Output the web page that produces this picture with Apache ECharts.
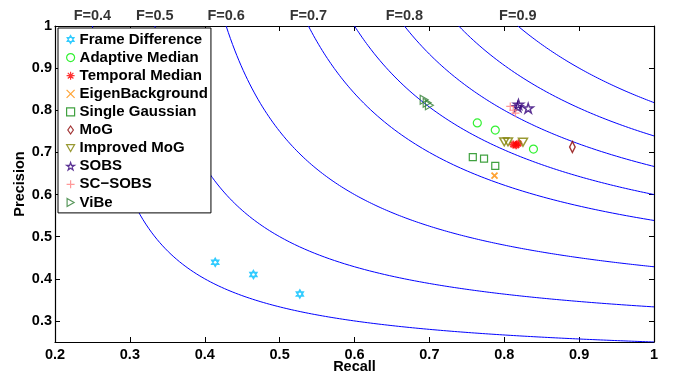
<!DOCTYPE html>
<html><head><meta charset="utf-8">
<script src="https://cdn.jsdelivr.net/npm/echarts@6/dist/echarts.min.js"></script>
<style>html,body{margin:0;padding:0;background:#fff}#c{width:680px;height:374px}</style>
</head><body><div id="c"></div>
<script>
// ---- data ----
const fLevels = [0.4, 0.5, 0.6, 0.7, 0.75, 0.8, 0.85, 0.9];
const fLabelLevels = [0.4, 0.5, 0.6, 0.7, 0.8, 0.9];
const xTicks = [0.2, 0.3, 0.4, 0.5, 0.6, 0.7, 0.8, 0.9, 1];
const yTicks = [0.3, 0.4, 0.5, 0.6, 0.7, 0.8, 0.9, 1];
const frameDifference = [[0.414,0.439],[0.465,0.410],[0.527,0.364]];
const adaptiveMedian = [[0.764,0.770],[0.788,0.753],[0.839,0.708]];
const temporalMedian = [[0.812,0.719],[0.816,0.717],[0.819,0.721]];
const eigenBackground = [[0.787,0.645]];
const singleGaussian = [[0.758,0.689],[0.773,0.685],[0.788,0.668]];
const mog = [[0.891,0.713]];
const improvedMog = [[0.800,0.725],[0.805,0.725],[0.825,0.724]];
const sobs = [[0.819,0.814],[0.818,0.808],[0.832,0.805]];
const scSobs = [[0.808,0.809],[0.812,0.800],[0.815,0.793]];
const vibe = [[0.693,0.825],[0.697,0.818],[0.700,0.812]];

const FONT = '"Liberation Sans", Arial, sans-serif';
const SYM = {
  hexagram: 'path://M0,-1L0.866,0.5L-0.866,0.5ZM0,1L0.866,-0.5L-0.866,-0.5Z',
  asterisk: 'path://M0,-1L0,1M-1,0L1,0M-0.7,-0.7L0.7,0.7M0.7,-0.7L-0.7,0.7',
  cross: 'path://M-1,-1L1,1M1,-1L-1,1',
  plus: 'path://M0,-1L0,1M-1,0L1,0',
  star: 'path://M0,-1L0.2245,-0.309L0.951,-0.309L0.363,0.118L0.588,0.809L0,0.382L-0.588,0.809L-0.363,0.118L-0.951,-0.309L-0.2245,-0.309Z',
  down: 'path://M-1,-0.85L1,-0.85L0,0.9Z',
  right: 'path://M-0.85,-1L0.9,0L-0.85,1Z',
  square: 'path://M-1,-1L1,-1L1,1L-1,1Z',
  diamond: 'path://M0,-1.3L0.9,0L0,1.3L-0.9,0Z'
};

function fCurve(F) {
  const r0 = F / (2 - F);
  const pts = [];
  for (let i = 0; i <= 200; i++) {
    const r = r0 + (1 - r0) * i / 200;
    pts.push([r, F * r / (2 * r - F)]);
  }
  return pts;
}

const curveSeries = fLevels.map(F => ({
  type: 'line', data: fCurve(F), showSymbol: false, symbol: 'none', silent: true,
  lineStyle: { color: '#0000ff', width: 1 }, clip: true, z: 1, legendHoverLink: false
}));

function sc(name, data, symbol, color, size, bw) {
  return {
    name, type: 'scatter', data, symbol, symbolSize: size, symbolKeepAspect: true,
    itemStyle: { color: 'rgba(0,0,0,0)', borderColor: color, borderWidth: bw || 1.2 }, z: 3
  };
}

const pointSeries = [
  sc('Frame Difference', frameDifference, SYM.hexagram, '#00bfff', 8, 1.5),
  sc('Adaptive Median', adaptiveMedian, 'circle', '#00ee00', 8),
  sc('Temporal Median', temporalMedian, SYM.asterisk, '#ff0000', 8, 2),
  sc('EigenBackground', eigenBackground, SYM.cross, '#ff8c00', 6, 1.8),
  sc('Single Gaussian', singleGaussian, SYM.square, '#108a10', 7),
  sc('MoG', mog, SYM.diamond, '#8b0000', [8, 11], 1.5),
  sc('Improved MoG', improvedMog, SYM.down, '#808000', 9, 1.5),
  sc('SOBS', sobs, SYM.star, '#33007a', 10, 1.5),
  sc('SC\u2212SOBS', scSobs, SYM.plus, '#ff7f7f', 8, 1.2),
  sc('ViBe', vibe, SYM.right, '#2e7d32', 9, 1.2)
];

const labelSeries = {
  type: 'scatter', symbol: 'circle', symbolSize: 1, silent: true, clip: false, z: 5,
  itemStyle: { color: 'rgba(0,0,0,0)' },
  data: fLabelLevels.map(F => ({ value: [F / (2 - F), 1], name: 'F=' + F })),
  label: { show: true, position: 'top', distance: 2, formatter: p => p.name,
    color: '#000', fontFamily: FONT, fontWeight: 'bold', fontSize: 14.5 },
  legendHoverLink: false
};

const fmt = v => (Math.abs(v - 1) < 1e-9 ? '1' : v.toFixed(1));
const axisLine = { show: true, lineStyle: { color: '#000', width: 1.2 } };

const chart = echarts.init(document.getElementById('c'), null, { renderer: 'canvas' });
chart.setOption({
  animation: false,
  backgroundColor: '#fff',
  grid: { left: 55, right: 26, top: 26, bottom: 32, containLabel: false, outerBoundsMode: 'none' },
  legend: {
    data: pointSeries.map(s => s.name),
    orient: 'vertical', left: 58, top: 28,
    padding: [4, 3, 3, 8],
    itemWidth: 8, itemHeight: 8, itemGap: 3.1,
    backgroundColor: '#fff', borderColor: '#000', borderWidth: 1,
    textStyle: { fontFamily: FONT, fontWeight: 'bold', fontSize: 15, color: '#000', lineHeight: 14 },
    itemStyle: { borderWidth: 1.2 },
    selectedMode: false, z: 10
  },
  xAxis: [
    { type: 'value', min: 0.2, max: 1, interval: 0.1, position: 'bottom',
      name: 'Recall', nameLocation: 'middle', nameGap: 17, nameMoveOverlap: false,
      nameTextStyle: { fontFamily: FONT, fontWeight: 'bold', fontSize: 14.5, color: '#000' },
      axisLine, axisTick: { inside: true, length: 5, lineStyle: { color: '#000' } },
      axisLabel: { formatter: fmt, margin: 5, fontFamily: FONT, fontWeight: 'bold', fontSize: 14.5, color: '#000' },
      splitLine: { show: false } },
    { type: 'value', min: 0.2, max: 1, interval: 0.1, position: 'top',
      axisLine, axisTick: { inside: true, length: 5, lineStyle: { color: '#000' } },
      axisLabel: { show: false }, splitLine: { show: false } }
  ],
  yAxis: [
    { type: 'value', min: 0.25, max: 1, position: 'left',
      name: 'Precision', nameLocation: 'middle', nameGap: 28, nameRotate: 90, nameMoveOverlap: false,
      nameTextStyle: { fontFamily: FONT, fontWeight: 'bold', fontSize: 14.5, color: '#000' },
      axisLine,
      axisTick: { inside: true, length: 5, customValues: yTicks, lineStyle: { color: '#000' } },
      axisLabel: { customValues: yTicks, formatter: fmt, margin: 3, fontFamily: FONT, fontWeight: 'bold', fontSize: 14.5, color: '#000' },
      splitLine: { show: false } },
    { type: 'value', min: 0.25, max: 1, position: 'right',
      axisLine,
      axisTick: { inside: true, length: 5, customValues: yTicks, lineStyle: { color: '#000' } },
      axisLabel: { show: false }, splitLine: { show: false } }
  ],
  series: [...curveSeries, ...pointSeries, labelSeries]
});
</script>
</body></html>
